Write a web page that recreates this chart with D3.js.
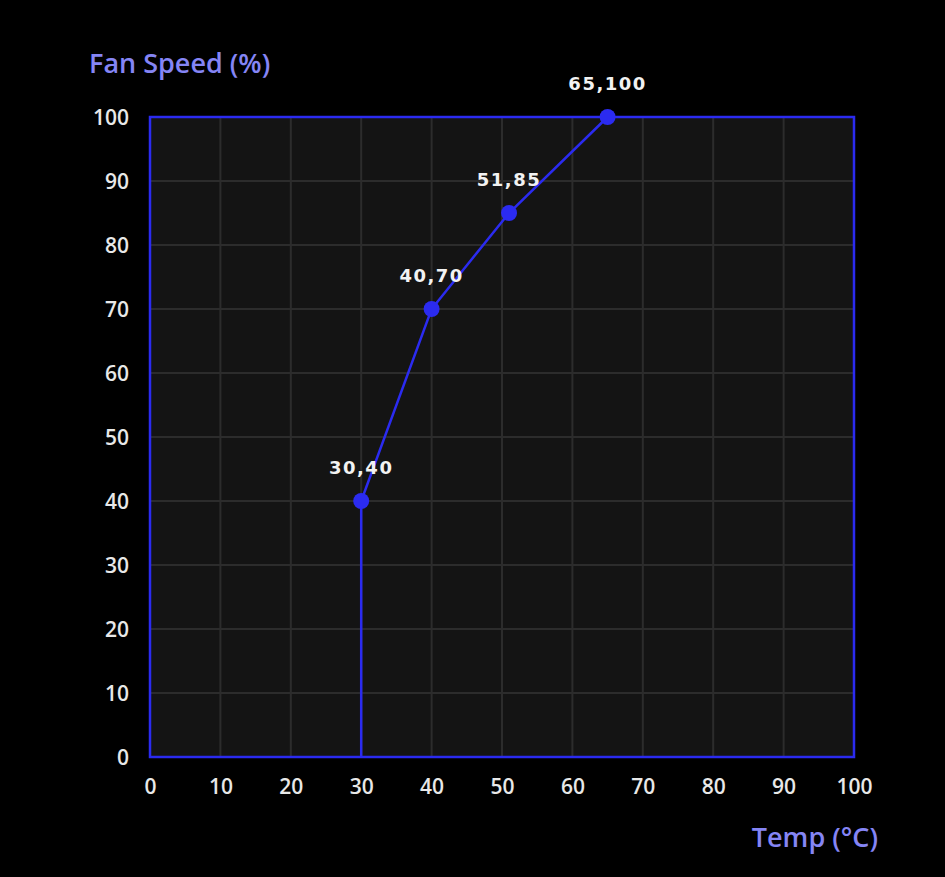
<!DOCTYPE html>
<html><head><meta charset="utf-8">
<script src="https://cdn.jsdelivr.net/npm/d3@7"></script>
<style>html,body{margin:0;padding:0;background:#000;}</style>
</head><body>
<svg id="c" width="945" height="877"></svg>
<script>
const temps = [30, 30, 40, 51, 65];
const speeds = [0, 40, 70, 85, 100];
const markerTemps = [30, 40, 51, 65];
const markerSpeeds = [40, 70, 85, 100];
const markerLabels = ["30,40", "40,70", "51,85", "65,100"];
const xTicks = [0,10,20,30,40,50,60,70,80,90,100];
const yTicks = [0,10,20,30,40,50,60,70,80,90,100];

const svg = d3.select("#c");
svg.append("rect").attr("width",945).attr("height",877).attr("fill","#000");
const L=150,R=854,T=117,B=757;
const x = d3.scaleLinear().domain([0,100]).range([L,R]);
const y = d3.scaleLinear().domain([0,100]).range([B,T]);
const blue="#2b2bf0";
svg.append("rect").attr("x",L).attr("y",T).attr("width",R-L).attr("height",B-T).attr("fill","#141414");
const g = svg.append("g");
g.selectAll(".vx").data(xTicks.slice(1,-1)).join("line").attr("x1",d=>x(d)).attr("x2",d=>x(d)).attr("y1",T).attr("y2",B).attr("stroke","#2c2c2c").attr("stroke-width",2);
g.selectAll(".hy").data(yTicks.slice(1,-1)).join("line").attr("y1",d=>y(d)).attr("y2",d=>y(d)).attr("x1",L).attr("x2",R).attr("stroke","#2c2c2c").attr("stroke-width",2);

const xAxis = svg.append("g").attr("transform",`translate(0,${B})`).call(d3.axisBottom(x).tickValues(xTicks).tickSize(0).tickPadding(20));
const yAxis = svg.append("g").attr("transform",`translate(${L},0)`).call(d3.axisLeft(y).tickValues(yTicks).tickSize(0).tickPadding(21));
[xAxis,yAxis].forEach(a=>{a.select(".domain").remove();a.selectAll("text").attr("fill","#e8e8e8").style("font-family","'Open Sans',sans-serif").style("font-size","21px").style("font-weight","600");});
xAxis.selectAll("text").attr("dy","0.71em").attr("y",22);
yAxis.selectAll("text").attr("dy","0.36em");

svg.append("rect").attr("x",L).attr("y",T).attr("width",R-L).attr("height",B-T).attr("fill","none").attr("stroke",blue).attr("stroke-width",2.5);

const line = d3.line().x(d=>x(d[0])).y(d=>y(d[1]));
svg.append("path").datum(temps.map((t,i)=>[t,speeds[i]])).attr("d",line).attr("fill","none").attr("stroke",blue).attr("stroke-width",2.5);
svg.selectAll(".m").data(markerTemps).join("circle").attr("cx",d=>x(d)).attr("cy",(d,i)=>y(markerSpeeds[i])).attr("r",8).attr("fill",blue);
svg.selectAll(".lb").data(markerTemps).join("text").attr("x",d=>x(d)).attr("y",(d,i)=>y(markerSpeeds[i])-27).attr("text-anchor","middle").attr("fill","#f2f2f2").style("font-family","'DejaVu Sans',sans-serif").style("font-weight","bold").style("font-size","18px").style("letter-spacing","1.5px").text((d,i)=>markerLabels[i]);

svg.append("text").attr("x",89).attr("y",73).attr("fill","#8585f5").style("font-family","'Open Sans',sans-serif").style("font-size","27px").style("font-weight","600").text("Fan Speed (%)");
svg.append("text").attr("x",878).attr("y",847).attr("text-anchor","end").attr("fill","#8585f5").style("font-family","'Open Sans',sans-serif").style("font-size","27px").style("font-weight","600").text("Temp (°C)");
</script>
</body></html>
